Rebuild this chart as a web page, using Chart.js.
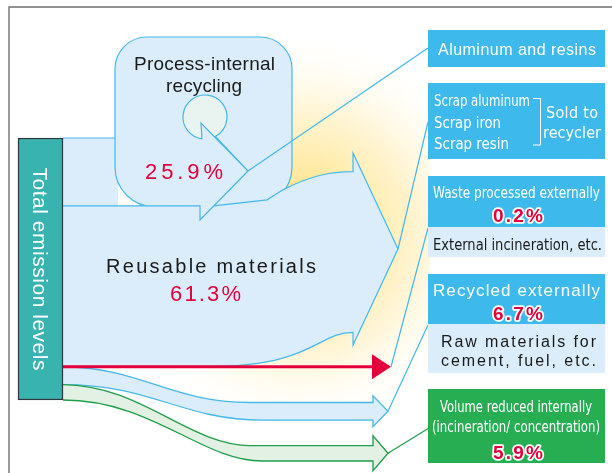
<!DOCTYPE html>
<html>
<head>
<meta charset="utf-8">
<script src="https://cdn.jsdelivr.net/npm/chart.js@4.4.1/dist/chart.umd.min.js"></script>
<style>
  html, body { margin: 0; padding: 0; background: #fff; }
  #wrap { width: 612px; height: 473px; position: relative; }
</style>
</head>
<body>
<div id="wrap"><canvas id="flowChart"></canvas></div>
<script>
// ---- data ----
const totalLabel = 'Total emission levels';
const flowNames = ['Process-internal recycling', 'Reusable materials', 'Waste processed externally', 'Recycled externally', 'Volume reduced internally'];
const flowShares = [25.9, 61.3, 0.2, 6.7, 5.9];
const recycleLabel = ['Process-internal', 'recycling'];
const reuseLabel = 'Reusable materials';
const reuseTargets = ['Aluminum and resins'];
const scrapItems = ['Scrap aluminum', 'Scrap iron', 'Scrap resin'];
const soldLabel = ['Sold to', 'recycler'];
const wasteNote = 'External incineration, etc.';
const recycledNote = ['Raw materials for', 'cement, fuel, etc.'];
const volumeLabel = ['Volume reduced internally', '(incineration/ concentration)'];

const totalShare = flowShares.reduce((a, b) => a + b, 0);
const pct = v => v.toFixed(1) + '%';

// ---- layout (canvas units) ----
const BAR_TOP = 138, BAR_BOTTOM = 400, W = 612, H = 473;
const unitPx = (BAR_BOTTOM - BAR_TOP) / totalShare;
const shareMax = BAR_BOTTOM / unitPx;
const shareMin = shareMax - H / unitPx;

const FONT = '"Liberation Sans", Arial, sans-serif';
const NARROW = '"Liberation Sans Narrow", "DejaVu Sans Condensed", "Liberation Sans", sans-serif';
const BLUE = '#3DB9EC', PALE = '#DBEDFA', LINE = '#45B8E8';
const GREEN = '#27AE53', GREEN_LINE = '#1E9E48', GREEN_PALE = '#E3F1E4';
const RED = '#E4003A', INK = '#1a1a1a';

// text fitted to a measured width: letter-spacing when wider, squeezed when narrower
function drawText(ctx, str, x, base, o) {
    ctx.save();
    ctx.font = `${o.weight || 'normal'} ${o.size}px ${o.family || FONT}`;
    ctx.letterSpacing = '0px';
    ctx.textAlign = 'left';
    ctx.textBaseline = 'alphabetic';
    const natural = ctx.measureText(str).width;
    const target = o.width || natural;
    let sx = 1, gap = 0;
    if (target > natural && str.length > 1) gap = (target - natural) / (str.length - 1);
    else sx = target / natural;
    ctx.letterSpacing = gap + 'px';
    const left = o.align === 'left' ? x : x - target / 2;
    ctx.translate(left, base);
    ctx.scale(sx, 1);
    if (o.outline) {
        ctx.strokeStyle = o.outline;
        ctx.lineWidth = o.outlineWidth || 3.5;
        ctx.lineJoin = 'round';
        ctx.strokeText(str, 0, 0);
    }
    ctx.fillStyle = o.color || INK;
    ctx.fillText(str, 0, 0);
    ctx.restore();
}

const flowPlugin = {
    id: 'flowDiagram',
    beforeDraw(chart) {
        const { ctx } = chart;
        ctx.save();
        ctx.fillStyle = '#fff';
        ctx.fillRect(0, 0, chart.width, chart.height);
        ctx.restore();
    },
    beforeDatasetsDraw(chart) {
        const { ctx } = chart;
        const sx = chart.scales.x, sy = chart.scales.y, ss = chart.scales.share;
        const X = v => sx.getPixelForValue(v);
        const Y = v => sy.getPixelForValue(v);
        const M = (x, y) => ctx.moveTo(X(x), Y(y));
        const L = (x, y) => ctx.lineTo(X(x), Y(y));
        const C = (a, b, c, d, e, f) => ctx.bezierCurveTo(X(a), Y(b), X(c), Y(d), X(e), Y(f));

        // band edges at the bar, top to bottom, from the shares
        const edges = [sy.getValueForPixel(ss.getPixelForValue(totalShare))];
        let rest = totalShare;
        flowShares.forEach(s => {
            rest -= s;
            edges.push(sy.getValueForPixel(ss.getPixelForValue(rest)));
        });
        const barR = 63;

        const fillStroke = (fill, stroke, lw) => {
            if (fill) { ctx.fillStyle = fill; ctx.fill(); }
            if (stroke) { ctx.strokeStyle = stroke; ctx.lineWidth = lw || 1.2; ctx.stroke(); }
        };

        ctx.save();
        ctx.lineJoin = 'miter';

        // glow
        const g = ctx.createRadialGradient(X(300), Y(232), 0, X(300), Y(232), 205);
        g.addColorStop(0, '#FFE07A');
        g.addColorStop(0.3, '#FFEAA3');
        g.addColorStop(0.62, '#FFF6DA');
        g.addColorStop(1, 'rgba(255,255,255,0)');
        ctx.fillStyle = g;
        ctx.fillRect(X(60), Y(40), X(430) - X(60), Y(470) - Y(40));

        // process-internal band, left part
        const aTop = edges[0], aBot = edges[1];
        ctx.fillStyle = PALE;
        ctx.fillRect(X(barR), Y(aTop), X(118) - X(barR), Y(aBot) - Y(aTop));

        // bubble
        const bl = 115, bt = 37, br = 292, bb = 207, rt = 32, rb = 40;
        ctx.beginPath();
        M(bl + rt, bt); L(br - rt, bt);
        ctx.arcTo(X(br), Y(bt), X(br), Y(bt + rt), rt);
        L(br, bb - rb);
        ctx.arcTo(X(br), Y(bb), X(br - rb), Y(bb), rb);
        L(bl + rb, bb);
        ctx.arcTo(X(bl), Y(bb), X(bl), Y(bb - rb), rb);
        L(bl, bt + rt);
        ctx.arcTo(X(bl), Y(bt), X(bl + rt), Y(bt), rt);
        ctx.closePath();
        fillStroke(PALE, LINE, 1.2);

        // reusable band
        const rT = aBot, rB = edges[2];
        const rw = rB - rT;
        const rc = 252;
        const rTa = rc - rw / 2, rBa = rc + rw / 2;
        const reuseOutline = (start) => {
            start(213.7, rT); L(267, rT - 6); L(283, rT - 16);
            C(310, rTa + 4, 330, rTa, 353, rTa);
            L(353, 153); L(398, 249); L(353, 345); L(353, rBa);
            C(318, rBa, 312, rB, 210, rB);
            L(barR, rB);
        };
        ctx.beginPath(); M(barR, rT); reuseOutline(L); ctx.closePath();
        fillStroke(PALE);
        ctx.beginPath(); reuseOutline(M);
        fillStroke(null, LINE, 1.2);

        // recycling loop icon
        const loop = () => {
            ctx.arc(X(205), Y(117), 22, 97 * Math.PI / 180, (62 + 360) * Math.PI / 180);
            L(248, 171); L(201, 123); L(202, 139);
        };
        ctx.beginPath(); loop(); ctx.closePath();
        fillStroke('#E9F3EF');
        ctx.beginPath(); loop();
        fillStroke(null, LINE, 1.2);

        // process-internal band strokes and arrowhead
        ctx.beginPath();
        M(barR, aTop); L(bl, aTop);
        M(barR, aBot); L(200, aBot); L(200, 220); L(248, 171);
        fillStroke(null, LINE, 1.2);

        // 6.7% and 5.9% bands
        const band = (t0, b0, drop, half, c1, c2, fill, stroke) => {
            const t1 = t0 + drop, b1 = b0 + drop, cy = (t1 + b1) / 2;
            const outline = () => {
                M(barR, t0);
                C(c1, t0, c2, t1, 250, t1);
                L(373, t1); L(373, cy - half); L(388, cy); L(373, cy + half); L(373, b1);
                L(262, b1);
                C(c2 + 12, b1, c1 + 12, b0, barR, b0);
            };
            ctx.beginPath(); outline(); fillStroke(fill);
            ctx.beginPath(); outline(); fillStroke(null, stroke, 1.3);
            return cy;
        };
        const blueC = band(edges[3], edges[4], 35.5, 15.5, 140, 170, PALE, LINE);
        const greenC = band(edges[4], edges[5], 61, 17.5, 140, 190, GREEN_PALE, GREEN_LINE);

        // 0.2% red arrow
        const redY = (edges[2] + edges[3]) / 2;
        ctx.beginPath();
        M(barR, redY); L(373, redY);
        fillStroke(null, RED, 3);
        ctx.beginPath();
        M(372, redY - 12.5); L(391, redY); L(372, redY + 12.5);
        ctx.closePath();
        fillStroke(RED);

        // connectors to the boxes
        ctx.beginPath();
        M(248, 171); L(428, 48);
        M(398, 249); L(428, 122);
        M(391, redY); L(428, 228);
        M(388, blueC); L(428, 325);
        fillStroke(null, LINE, 1.2);
        ctx.beginPath();
        M(388, greenC); L(429, 428);
        fillStroke(null, GREEN_LINE, 1.2);

        // boxes
        const box = (y0, y1, color) => {
            ctx.fillStyle = color;
            ctx.fillRect(X(428), Y(y0), X(605) - X(428), Y(y1) - Y(y0));
        };
        box(30, 67, BLUE);
        box(83, 159, BLUE);
        box(176, 227, BLUE);
        box(227, 257, PALE);
        box(274, 324, BLUE);
        box(324, 373, PALE);
        box(389, 463, GREEN);

        const cx = X(516.5);
        drawText(ctx, reuseTargets[0], X(517), Y(55), { size: 16, width: 158, color: '#fff' });
        const scrapBase = [106, 127.5, 148.5], scrapW = [96, 67, 75];
        scrapItems.forEach((s, i) => drawText(ctx, s, X(434), Y(scrapBase[i]), { size: 15, family: NARROW, width: scrapW[i], color: '#fff', align: 'left' }));
        ctx.beginPath();
        M(533, 98.5); L(540.5, 98.5); L(540.5, 145); L(533, 145);
        fillStroke(null, '#fff', 1);
        drawText(ctx, soldLabel[0], X(572), Y(117.5), { size: 16, family: NARROW, width: 52, color: '#fff' });
        drawText(ctx, soldLabel[1], X(572), Y(137.5), { size: 16, family: NARROW, width: 58, color: '#fff' });

        drawText(ctx, flowNames[2], cx, Y(198), { size: 16, family: NARROW, width: 167, color: '#fff' });
        drawText(ctx, pct(flowShares[2]), X(518), Y(221.5), { size: 19, weight: 'bold', width: 50, color: RED, outline: '#fff' });
        drawText(ctx, wasteNote, X(517.5), Y(250), { size: 15, family: NARROW, width: 169, color: INK });

        drawText(ctx, flowNames[3], cx, Y(296), { size: 17, width: 167, color: '#fff' });
        drawText(ctx, pct(flowShares[3]), X(518), Y(320), { size: 19, weight: 'bold', width: 50, color: RED, outline: '#fff' });
        drawText(ctx, recycledNote[0], X(518.5), Y(347), { size: 16, width: 155, color: INK });
        drawText(ctx, recycledNote[1], X(518.5), Y(365.5), { size: 16, width: 155, color: INK });

        drawText(ctx, volumeLabel[0], X(516), Y(412), { size: 15, family: NARROW, width: 152, color: '#fff' });
        drawText(ctx, volumeLabel[1], X(516), Y(432), { size: 15, family: NARROW, width: 168, color: '#fff' });
        drawText(ctx, pct(flowShares[4]), X(518), Y(458.5), { size: 19, weight: 'bold', width: 50, color: RED, outline: '#fff' });

        // bubble and band labels
        drawText(ctx, recycleLabel[0], X(204.5), Y(70), { size: 19, width: 141, color: INK });
        drawText(ctx, recycleLabel[1], X(204), Y(91.5), { size: 19, width: 76, color: INK });
        drawText(ctx, pct(flowShares[0]), X(184), Y(179), { size: 22, width: 78, color: RED });
        drawText(ctx, reuseLabel, X(211), Y(272.5), { size: 20, width: 210, color: INK });
        drawText(ctx, pct(flowShares[1]), X(205.5), Y(300.5), { size: 22, width: 71, color: RED });

        // frame
        ctx.beginPath();
        M(9, H); L(9, 7); L(W, 7);
        fillStroke(null, '#707070', 1.4);
        ctx.restore();
    },
    afterDatasetsDraw(chart) {
        const { ctx } = chart;
        const bar = chart.getDatasetMeta(0).data[0];
        if (!bar) return;
        ctx.save();
        ctx.translate(bar.x, (bar.y + bar.base) / 2);
        ctx.rotate(Math.PI / 2);
        drawText(ctx, totalLabel, 0, 7.5, { size: 21, width: 203, color: '#fff' });
        ctx.restore();
    }
};

const chart = new Chart(document.getElementById('flowChart'), {
    type: 'bar',
    data: {
        datasets: [{
            label: totalLabel,
            data: [{ x: 40.5, y: [0, totalShare] }],
            xAxisID: 'x',
            yAxisID: 'share',
            backgroundColor: '#39B3B0',
            borderColor: '#2A3A3A',
            borderWidth: 1.5,
            borderSkipped: false,
            barThickness: 45
        }]
    },
    options: {
        responsive: true,
        maintainAspectRatio: false,
        animation: false,
        events: [],
        layout: { padding: 0 },
        plugins: {
            legend: { display: false },
            tooltip: { enabled: false }
        },
        scales: {
            x: { type: 'linear', min: 0, max: W, offset: false, display: false },
            y: { type: 'linear', min: 0, max: H, reverse: true, display: false },
            share: { type: 'linear', axis: 'y', min: shareMin, max: shareMax, display: false }
        }
    },
    plugins: [flowPlugin]
});
</script>
</body>
</html>
